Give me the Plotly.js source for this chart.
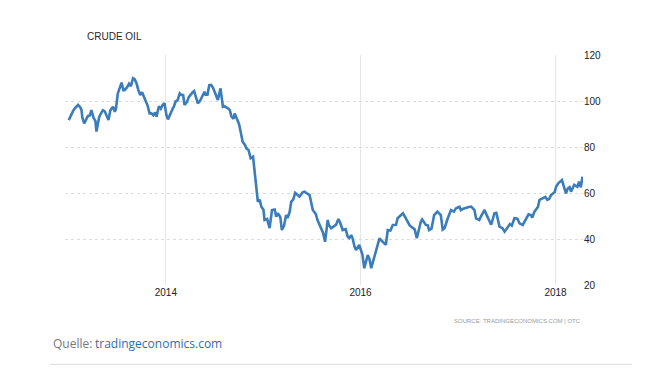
<!DOCTYPE html>
<html>
<head>
<meta charset="utf-8">
<script src="https://cdn.plot.ly/plotly-3.0.1.min.js"></script>
<style>
  html, body { margin: 0; padding: 0; background: #ffffff; }
  #chart { width: 647px; height: 390px; }
</style>
</head>
<body>
<div id="chart"></div>
<script>
// Crude oil price (USD/bbl)
const dates = [
  // 2013
  '2013-01-02','2013-01-10','2013-01-18','2013-01-25','2013-02-06','2013-02-14','2013-02-19','2013-02-22',
  '2013-03-01','2013-03-08','2013-03-15','2013-03-22','2013-03-28','2013-04-05','2013-04-12','2013-04-16',
  '2013-04-26','2013-05-03','2013-05-10','2013-05-17','2013-05-31','2013-06-07','2013-06-17','2013-06-24',
  '2013-06-28','2013-07-05','2013-07-12','2013-07-19','2013-07-26','2013-07-31','2013-08-09','2013-08-16',
  '2013-08-23','2013-08-31','2013-09-06','2013-09-13','2013-09-20','2013-09-27','2013-10-04','2013-10-11',
  '2013-10-18','2013-10-25','2013-11-01','2013-11-08','2013-11-15','2013-11-22','2013-11-27','2013-12-06',
  '2013-12-13','2013-12-20','2013-12-27',
  // 2014
  '2014-01-03','2014-01-09','2014-01-17','2014-01-27','2014-01-31','2014-02-07','2014-02-14','2014-02-22',
  '2014-02-28','2014-03-07','2014-03-12','2014-03-21','2014-03-28','2014-04-06','2014-04-11','2014-04-17',
  '2014-04-25','2014-05-01','2014-05-09','2014-05-16','2014-05-26','2014-05-30','2014-06-06','2014-06-13',
  '2014-06-20','2014-06-27','2014-07-03','2014-07-15','2014-07-25','2014-08-03','2014-08-08','2014-08-15',
  '2014-08-22','2014-08-29','2014-09-04','2014-09-12','2014-09-16','2014-09-29','2014-10-03','2014-10-08',
  '2014-10-16','2014-10-24','2014-10-30','2014-11-07','2014-11-15','2014-11-24','2014-12-02','2014-12-12',
  '2014-12-19','2014-12-25',
  // 2015
  '2015-01-02','2015-01-06','2015-01-16','2015-01-25','2015-02-03','2015-02-13','2015-02-19','2015-02-25',
  '2015-03-06','2015-03-12','2015-03-20','2015-03-28','2015-04-02','2015-04-10','2015-04-16','2015-04-24',
  '2015-05-01','2015-05-08','2015-05-17','2015-05-29','2015-06-05','2015-06-12','2015-06-24','2015-07-06',
  '2015-07-17','2015-07-24','2015-07-31','2015-08-07','2015-08-14','2015-08-21','2015-08-31','2015-09-04',
  '2015-09-13','2015-09-25','2015-10-01','2015-10-10','2015-10-16','2015-10-26','2015-11-06','2015-11-14',
  '2015-11-20','2015-11-27','2015-12-02','2015-12-10','2015-12-15','2015-12-27',
  // 2016
  '2016-01-08','2016-01-15','2016-01-22','2016-01-28','2016-02-03','2016-02-10','2016-02-22','2016-03-02',
  '2016-03-12','2016-03-24','2016-04-05','2016-04-12','2016-04-22','2016-05-01','2016-05-13','2016-05-19',
  '2016-06-03','2016-06-08','2016-06-19','2016-06-24','2016-07-02','2016-07-08','2016-07-14','2016-07-22',
  '2016-07-30','2016-08-14','2016-08-19','2016-09-02','2016-09-09','2016-09-14','2016-09-23','2016-10-03',
  '2016-10-15','2016-10-28','2016-11-04','2016-11-11','2016-11-23','2016-12-05','2016-12-16','2016-12-24',
  // 2017
  '2017-01-06','2017-01-11','2017-01-20','2017-01-31','2017-02-10','2017-02-19','2017-03-03','2017-03-09',
  '2017-03-21','2017-03-31','2017-04-10','2017-04-21','2017-04-28','2017-05-05','2017-05-17','2017-05-24',
  '2017-06-05','2017-06-16','2017-06-24','2017-07-06','2017-07-14','2017-07-21','2017-07-31','2017-08-11',
  '2017-08-19','2017-08-31','2017-09-13','2017-09-22','2017-10-01','2017-10-06','2017-10-14','2017-10-27',
  '2017-11-02','2017-11-14','2017-11-24','2017-12-01','2017-12-08','2017-12-15','2017-12-29',
  // 2018
  '2018-01-03','2018-01-12','2018-01-25','2018-02-09','2018-02-16','2018-02-23','2018-02-28','2018-03-12',
  '2018-03-24','2018-03-30','2018-04-06','2018-04-12'
];
const prices = [
  // 2013
  91.7, 93.8, 95.6, 96.8, 98.3, 97.3, 96.0, 92.8,
  90.3, 91.9, 93.5, 93.7, 96.0, 92.7, 91.3, 86.7,
  93.0, 94.6, 96.0, 95.5, 91.7, 96.0, 97.5, 95.3,
  96.6, 103.2, 106.2, 108.0, 104.7, 104.8, 106.0, 107.5,
  106.4, 109.9, 109.5, 107.7, 104.7, 102.6, 103.8, 102.0,
  100.4, 97.9, 94.6, 94.6, 93.8, 95.0, 93.2, 97.7,
  96.6, 98.3, 99.0,
  // 2014
  94.0, 92.0, 94.4, 96.8, 97.5, 99.9, 100.3, 103.3,
  102.6, 102.6, 98.3, 99.5, 101.7, 103.3, 103.7, 104.3,
  100.6, 99.0, 100.0, 102.0, 104.0, 102.7, 102.7, 106.9,
  107.0, 105.7, 104.0, 100.4, 105.5, 97.5, 97.7, 97.4,
  96.8, 96.0, 93.2, 92.3, 94.6, 91.0, 89.7, 87.0,
  82.3, 81.0, 79.4, 78.7, 75.1, 75.8, 66.4, 56.2,
  57.1, 54.0,
  // 2015
  52.7, 48.3, 48.7, 44.7, 52.6, 52.8, 49.7, 51.2,
  49.6, 43.9, 45.7, 50.4, 49.1, 51.6, 56.2, 57.2,
  60.1, 59.4, 58.4, 60.3, 60.6, 60.0, 59.1, 52.6,
  50.9, 48.1, 46.1, 43.9, 42.5, 38.8, 48.3, 46.1,
  44.7, 45.7, 46.1, 48.7, 47.3, 43.9, 44.3, 41.0,
  40.4, 41.7, 40.3, 36.5, 35.2, 37.4,
  // 2016
  33.2, 27.3, 31.0, 33.0, 31.5, 27.3, 32.3, 36.0,
  40.3, 38.8, 37.5, 43.9, 43.7, 46.1, 46.2, 49.0,
  50.9, 51.2, 49.0, 47.6, 46.1, 45.4, 44.7, 44.2,
  40.3, 47.5, 48.5, 46.1, 45.9, 43.9, 44.5, 50.4,
  51.9, 50.4, 44.1, 44.7, 49.0, 52.6, 51.9, 53.4,
  // 2017
  54.0, 52.6, 53.2, 53.4, 53.9, 54.1, 52.6, 49.0,
  48.3, 50.6, 52.6, 49.6, 47.5, 46.2, 51.2, 51.4,
  45.4, 44.7, 43.2, 45.4, 46.5, 45.8, 49.0, 48.8,
  46.8, 46.1, 49.0, 50.7, 50.4, 49.3, 51.9, 53.9,
  57.0, 57.7, 58.3, 57.0, 57.4, 59.1, 60.4,
  // 2018
  62.7, 64.3, 65.6, 59.8, 62.0, 62.5, 60.6, 63.5,
  62.7, 64.9, 62.5, 67.1
];
const xTickVals = ['2014-01-01', '2016-01-01', '2018-01-01'];
const xTickText = ['2014', '2016', '2018'];
const yTickVals = [20, 40, 60, 80, 100, 120];
const yTickText = ['20', '40', '60', '80', '100', '120'];

const trace = {
  type: 'scatter',
  mode: 'lines',
  x: dates,
  y: prices,
  line: { color: '#3b7cba', width: 2.6 },
  hoverinfo: 'skip'
};

const tickFont = { family: 'Liberation Sans, Arial, sans-serif', size: 10, color: '#222222' };

const layout = {
  width: 647,
  height: 390,
  margin: { l: 65, r: 64, t: 55, b: 105, pad: 0 },
  paper_bgcolor: '#ffffff',
  plot_bgcolor: '#ffffff',
  showlegend: false,
  font: { family: 'Liberation Sans, Arial, sans-serif', size: 10, color: '#222222' },
  xaxis: {
    type: 'date',
    range: ['2012-12-19', '2018-04-14'],
    tickmode: 'array',
    tickvals: xTickVals,
    ticktext: xTickText,
    showgrid: true,
    gridcolor: '#e6e6e6',
    gridwidth: 1,
    zeroline: false,
    showline: false,
    ticks: '',
    tickfont: tickFont
  },
  yaxis: {
    side: 'right',
    range: [20, 120],
    tickmode: 'array',
    tickvals: yTickVals,
    ticktext: yTickText,
    showgrid: true,
    gridcolor: '#dcdcdc',
    griddash: 'dot',
    gridwidth: 1,
    zeroline: false,
    showline: false,
    ticks: '',
    tickfont: tickFont
  },
  annotations: [
    {
      text: 'CRUDE OIL', xref: 'paper', yref: 'paper', x: 0.0386, y: 1.0826,
      xanchor: 'left', yanchor: 'middle', showarrow: false,
      font: { family: 'Liberation Sans, Arial, sans-serif', size: 10, color: '#2b2633' }
    },
    {
      text: 'SOURCE: TRADINGECONOMICS.COM | OTC', xref: 'paper', yref: 'paper', x: 1.0, y: -0.158,
      xanchor: 'right', yanchor: 'middle', showarrow: false,
      font: { family: 'Liberation Sans, Arial, sans-serif', size: 6, color: '#9a9a9a' }
    },
    {
      text: 'Quelle:', xref: 'paper', yref: 'paper', x: -0.027, y: -0.2565,
      xanchor: 'left', yanchor: 'middle', showarrow: false,
      font: { family: 'Open Sans, sans-serif', size: 12, color: '#7a7a7a' }
    },
    {
      text: 'tradingeconomics.com', xref: 'paper', yref: 'paper', x: 0.0535, y: -0.2565,
      xanchor: 'left', yanchor: 'middle', showarrow: false,
      font: { family: 'Open Sans, sans-serif', size: 12, color: '#2d6db4' }
    }
  ],
  shapes: [
    {
      type: 'line', xref: 'paper', yref: 'paper',
      x0: -0.029, x1: 1.0946, y0: -0.345, y1: -0.345,
      line: { color: '#dddddd', width: 1 }
    }
  ]
};

Plotly.newPlot('chart', [trace], layout, { displayModeBar: false, staticPlot: true });
</script>
</body>
</html>
